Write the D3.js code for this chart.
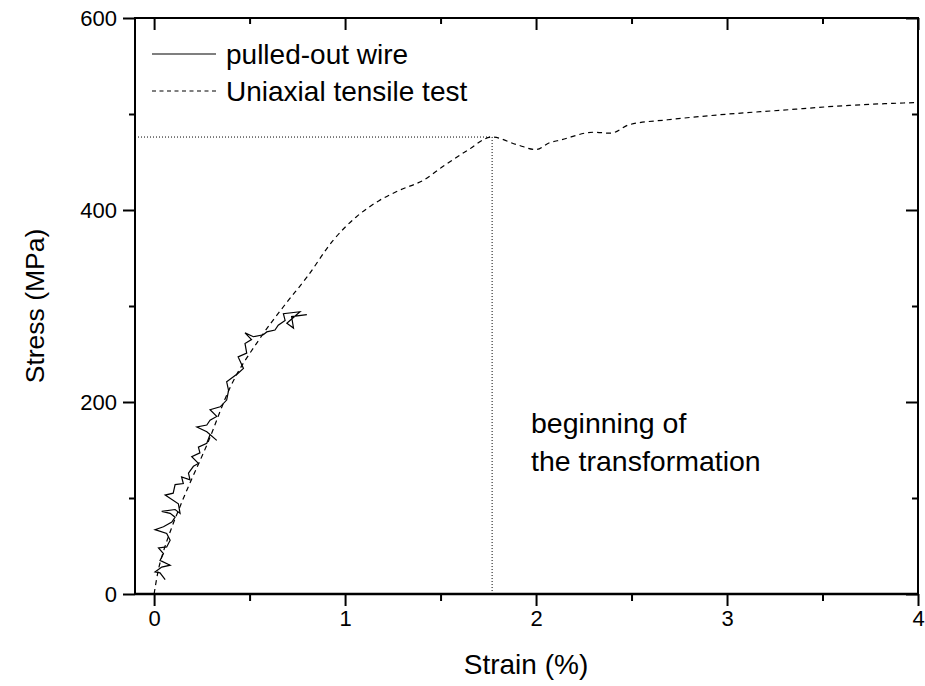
<!DOCTYPE html>
<html>
<head>
<meta charset="utf-8">
<script src="https://cdn.jsdelivr.net/npm/d3@7"></script>
<style>
  html, body { margin: 0; padding: 0; background: #fff; }
  svg text { font-family: "Liberation Sans", Arial, Helvetica, sans-serif; fill: #000; }
</style>
</head>
<body>
<svg id="chart" width="925" height="686"></svg>
<script>
// ---- data ----
const tensileStrain = [0, 0.02, 0.05, 0.09, 0.15, 0.28, 0.40, 0.55, 0.68, 0.80, 0.94, 1.06, 1.18, 1.29, 1.41, 1.51, 1.64, 1.77, 1.90, 2.00, 2.07, 2.13, 2.30, 2.39, 2.49, 2.69, 2.95, 3.29, 3.64, 4.00];
const tensileStress = [0, 23, 45, 68, 98, 157, 216, 265, 300, 330, 369, 393, 410, 421, 431, 445, 462, 476, 468, 463, 470, 473, 481, 480, 489, 494, 499, 504, 509, 512];

const wireStrain = [0.058, 0.031, 0.005, 0.040, 0.084, 0.031, 0.049, 0.023, 0.066, 0.084, 0.066, 0.005, 0.049, 0.093, 0.110, 0.084, 0.040, 0.110, 0.136, 0.127, 0.058, 0.100, 0.110, 0.153, 0.144, 0.188, 0.180, 0.206, 0.232, 0.197, 0.240, 0.232, 0.276, 0.293, 0.328, 0.276, 0.224, 0.276, 0.293, 0.328, 0.293, 0.346, 0.380, 0.390, 0.380, 0.440, 0.468, 0.440, 0.485, 0.476, 0.510, 0.476, 0.520, 0.572, 0.590, 0.633, 0.650, 0.686, 0.677, 0.764, 0.695, 0.730, 0.720, 0.800];
const wireStress = [15, 22, 23, 28, 30, 35, 42, 48, 49, 56, 63, 67, 70, 75, 80, 84, 86, 88, 84, 94, 103, 105, 114, 115, 122, 119, 126, 133, 136, 143, 147, 153, 157, 166, 160, 169, 174, 176, 181, 185, 192, 195, 202, 212, 221, 230, 235, 247, 251, 261, 265, 272, 268, 270, 273, 275, 280, 285, 292, 294, 282, 277, 289, 291];

const xTicks = [0, 1, 2, 3, 4];
const yTicks = [0, 200, 400, 600];
const xMinor = [0.5, 1.5, 2.5, 3.5];
const yMinor = [100, 300, 500];

const transitionStrain = 1.77;
const transitionStress = 476;

const legendLabels = ["pulled-out wire", "Uniaxial tensile test"];
const noteLines = ["beginning of", "the transformation"];
const xTitle = "Strain (%)";
const yTitle = "Stress (MPa)";

// ---- layout ----
const svg = d3.select("#chart");
const L = 135, R = 918, T = 18, B = 594;
const x = d3.scaleLinear().domain([-0.1, 4]).range([L, R]);
const y = d3.scaleLinear().domain([0, 600]).range([B, T]);

const tickFont = 22;

// frame
svg.append("rect").attr("x", L).attr("y", T).attr("width", R - L).attr("height", B - T)
  .attr("fill", "none").attr("stroke", "#000").attr("stroke-width", 2);

// bottom axis (outward ticks)
const gB = svg.append("g").attr("transform", `translate(0,${B})`)
  .call(d3.axisBottom(x).tickValues(xTicks).tickSize(12).tickSizeOuter(0).tickPadding(4).tickFormat(d3.format("d")));
const gBm = svg.append("g").attr("transform", `translate(0,${B})`)
  .call(d3.axisBottom(x).tickValues(xMinor).tickSize(7).tickSizeOuter(0).tickFormat(""));
// left axis (outward)
const gL = svg.append("g").attr("transform", `translate(${L},0)`)
  .call(d3.axisLeft(y).tickValues(yTicks).tickSize(12).tickSizeOuter(0).tickPadding(6).tickFormat(d3.format("d")));
const gLm = svg.append("g").attr("transform", `translate(${L},0)`)
  .call(d3.axisLeft(y).tickValues(yMinor).tickSize(6).tickSizeOuter(0).tickFormat(""));
// top axis (inward)
const gT = svg.append("g").attr("transform", `translate(0,${T})`)
  .call(d3.axisTop(x).tickValues(xTicks).tickSize(-12).tickSizeOuter(0).tickFormat(""));
const gTm = svg.append("g").attr("transform", `translate(0,${T})`)
  .call(d3.axisTop(x).tickValues(xMinor).tickSize(-6).tickSizeOuter(0).tickFormat(""));
// right axis (inward)
const gR = svg.append("g").attr("transform", `translate(${R},0)`)
  .call(d3.axisRight(y).tickValues(yTicks).tickSize(-12).tickSizeOuter(0).tickFormat(""));
const gRm = svg.append("g").attr("transform", `translate(${R},0)`)
  .call(d3.axisRight(y).tickValues(yMinor).tickSize(-6).tickSizeOuter(0).tickFormat(""));

[gB, gBm, gL, gLm, gT, gTm, gR, gRm].forEach(g => {
  g.select(".domain").remove();
  g.selectAll(".tick line").attr("stroke", "#000").attr("stroke-width", 2);
  g.selectAll(".tick text").attr("font-size", tickFont).attr("fill", "#000")
    .style("font-family", '"Liberation Sans", Arial, sans-serif');
});
// bottom spine a bit heavier
svg.append("line").attr("x1", L).attr("x2", R).attr("y1", B).attr("y2", B)
  .attr("stroke", "#000").attr("stroke-width", 2.5);

// reference dotted lines
svg.append("line").attr("x1", x(-0.1)).attr("x2", x(transitionStrain))
  .attr("y1", y(transitionStress)).attr("y2", y(transitionStress))
  .attr("stroke", "#000").attr("stroke-width", 1).attr("stroke-dasharray", "1,2");
svg.append("line").attr("x1", x(transitionStrain)).attr("x2", x(transitionStrain))
  .attr("y1", y(transitionStress)).attr("y2", y(0))
  .attr("stroke", "#000").attr("stroke-width", 1).attr("stroke-dasharray", "1,2");

// tensile test curve (dashed)
const tensile = tensileStrain.map((s, i) => [s, tensileStress[i]]);
svg.append("path").datum(tensile)
  .attr("d", d3.line().x(d => x(d[0])).y(d => y(d[1])).curve(d3.curveMonotoneX))
  .attr("fill", "none").attr("stroke", "#000").attr("stroke-width", 1.2).attr("stroke-dasharray", "5,4");

// pulled-out wire (solid, noisy)
const wire = wireStrain.map((s, i) => [s, wireStress[i]]);
svg.append("path").datum(wire)
  .attr("d", d3.line().x(d => x(d[0])).y(d => y(d[1])))
  .attr("fill", "none").attr("stroke", "#000").attr("stroke-width", 1.2).attr("stroke-linejoin", "miter");

// legend
const legY = [54, 91];
svg.append("line").attr("x1", 152).attr("x2", 216).attr("y1", legY[0]).attr("y2", legY[0])
  .attr("stroke", "#000").attr("stroke-width", 1.2);
svg.append("line").attr("x1", 152).attr("x2", 216).attr("y1", legY[1]).attr("y2", legY[1])
  .attr("stroke", "#000").attr("stroke-width", 1.2).attr("stroke-dasharray", "4,3.5");
legendLabels.forEach((t, i) => {
  svg.append("text").attr("x", 226).attr("y", legY[i] + 10).attr("font-size", 28).text(t);
});

// annotation
noteLines.forEach((t, i) => {
  svg.append("text").attr("x", 531).attr("y", 433 + i * 38).attr("font-size", 28.5).text(t);
});

// axis titles
svg.append("text").attr("x", 526).attr("y", 674).attr("text-anchor", "middle")
  .attr("font-size", 28).text(xTitle);
svg.append("text").attr("transform", `translate(44,${(T + B) / 2}) rotate(-90)`)
  .attr("text-anchor", "middle").attr("font-size", 26.5).text(yTitle);
</script>
</body>
</html>
